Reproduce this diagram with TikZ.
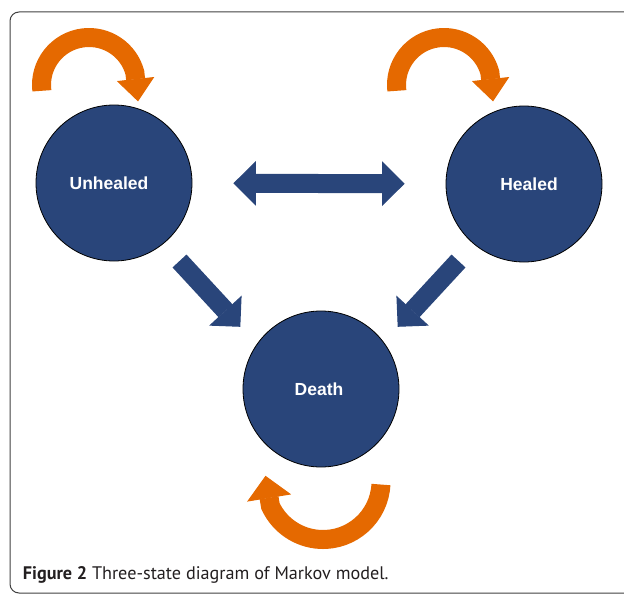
\documentclass[tikz,border=0pt]{standalone}
\usepackage{fontspec}
\setmainfont{Liberation Sans}
\newfontfamily\capfont{PT Sans}
\usetikzlibrary{arrows.meta,calc}
\definecolor{navy}{RGB}{41,69,122}
\definecolor{orng}{RGB}{229,105,0}
\definecolor{capgray}{RGB}{35,31,32}
\begin{document}
\begin{tikzpicture}[x=1pt,y=-1pt,
  state/.style={circle,draw=black,line width=0.8pt,fill=navy,minimum size=156pt,inner sep=0pt},
  statetext/.style={text=white,font=\fontsize{17.5}{20}\selectfont\bfseries},
  bigarrow/.style={draw=navy,line width=19pt,line cap=butt,-{Triangle[length=22pt,width=44pt,line width=1pt]}},
  bigdouble/.style={draw=navy,line width=19pt,line cap=butt,{Triangle[length=22.5pt,width=44.5pt,line width=1pt]}-{Triangle[length=22.5pt,width=44.5pt,line width=1pt]}},
  loopband/.style={draw=orng,line width=19pt,line cap=butt,-{Triangle[length=22.5pt,width=37.5pt,line width=1pt]}},
  loopbandwide/.style={draw=orng,line width=19pt,line cap=butt,-{Triangle[length=22.5pt,width=44.5pt,line width=1pt]}},
  frame/.style={draw=black!75,line width=1pt,rounded corners=9pt}
]
\useasboundingbox (0,0) rectangle (624,594);
\draw[frame] (660,593) -- (10,593) -- (10,12) -- (660,12);

% states
\node[state,label={[statetext,xshift=-5pt]center:Unhealed}] (U) at (114,183) {};
\node[state,label={[statetext,xshift=5pt]center:Healed}] (H) at (524,184) {};
\node[state,label={[statetext,xshift=-2pt]center:Death}] (D) at (321,389) {};

% transitions
\draw[bigdouble,shorten <=41pt,shorten >=41pt] (U) -- (H);
\coordinate (us) at (179.5,261);
\coordinate (ut) at (240.3,326.8);
\coordinate (hs) at (458.5,261);
\coordinate (ht) at (397.7,326.8);
\draw[bigarrow] (us) -- (ut);
\draw[bigarrow] (hs) -- (ht);

% self loops
\coordinate (cU) at (89,85);
\coordinate (tU) at (138,101.4);
\draw[loopband] ([shift={(173:47.5)}]cU) arc[start angle=173,end angle=345,radius=47.5] -- (tU);
\coordinate (cH) at (444,85);
\coordinate (tH) at (493,101.4);
\draw[loopband] ([shift={(173:47.5)}]cH) arc[start angle=173,end angle=345,radius=47.5] -- (tH);
\coordinate (cD) at (323,481.5);
\coordinate (tD) at (265.5,475.8);
\draw[loopbandwide] ([shift={(3:58)}]cD) arc[start angle=3,end angle=155,radius=58] -- (tD);

% caption
\node[anchor=base west,inner sep=0pt,text=capgray,font=\capfont\fontsize{18.2}{21}\selectfont] (cap) at (22.7,579) {\textbf{Figure 2} Three-state diagram of Markov model.};
\end{tikzpicture}
\end{document}
